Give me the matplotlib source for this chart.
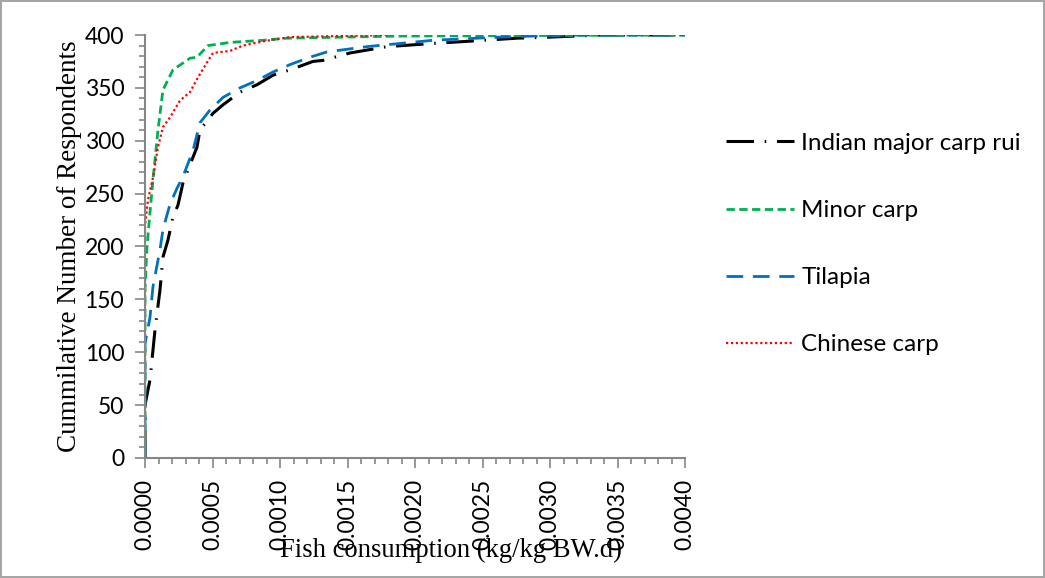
import numpy as np
import matplotlib
matplotlib.use("Agg")
import matplotlib.pyplot as plt
from matplotlib.ticker import MultipleLocator, FormatStrFormatter

# cumulative curves, x in kg/kg BW.d, y = cumulative respondents
rui_x = [0, 0, 0.000037, 0.000074, 0.000111, 0.000133, 0.000170, 0.000207, 0.000244,
         0.000281, 0.000311, 0.000385, 0.000407, 0.000504, 0.000578, 0.000704, 0.000830,
         0.000948, 0.001074, 0.001244, 0.001319, 0.001519, 0.001793, 0.002133, 0.002385,
         0.002756, 0.003000, 0.003370, 0.004]
rui_y = [0, 50, 74, 121, 159, 190, 206, 228, 239, 260, 270, 294, 310, 326, 334, 346, 353,
         362, 367, 375, 376, 383, 389, 392, 394, 397, 398, 400, 400]

minor_x = [0, 0, 0.000015, 0.000037, 0.000059, 0.000096, 0.000133, 0.000207, 0.000333,
           0.000385, 0.000467, 0.000630, 0.000874, 0.001052, 0.001900, 0.004]
minor_y = [0, 160, 200, 232, 263, 310, 348, 367, 378, 379, 390, 393, 395, 397, 399, 400]

tilapia_x = [0, 0, 0.000037, 0.000059, 0.000111, 0.000133, 0.000185, 0.000237, 0.000281,
             0.000356, 0.000407, 0.000481, 0.000578, 0.000704, 0.000830, 0.000948, 0.001074,
             0.001222, 0.001348, 0.001644, 0.002133, 0.002630, 0.003126, 0.004]
tilapia_y = [0, 108, 133, 162, 197, 216, 240, 255, 266, 291, 317, 329, 341, 350, 357, 365,
             372, 379, 384, 389, 395, 398, 400, 400]

chinese_x = [0, 0, 0.000022, 0.000059, 0.000096, 0.000133, 0.000185, 0.000259, 0.000333,
             0.000393, 0.000459, 0.000504, 0.000630, 0.000726, 0.000874, 0.001074, 0.0018]
chinese_y = [0, 220, 244, 265, 294, 313, 322, 338, 346, 360, 374, 383, 385, 390, 394, 398, 400]

labels = ["Indian major carp rui", "Minor carp", "Tilapia", "Chinese carp"]

fig = plt.figure(figsize=(10.45, 5.78), dpi=100)
fig.patch.set_edgecolor("#a6a6a6")
fig.patch.set_linewidth(1.5)
ax = fig.add_axes([145/1045, 1-458/578, 540/1045, 423/578])

l1, = ax.plot(rui_x, rui_y, color="black", lw=2.2, dashes=(9, 3.5, 0.5, 3.5))
l2, = ax.plot(minor_x, minor_y, color="#00B050", lw=2.0, dashes=(3, 1.6))
l3, = ax.plot(tilapia_x, tilapia_y, color="#0070C0", lw=2.0, dashes=(6, 3.5))
l4, = ax.plot(chinese_x, chinese_y, color="#FF0000", lw=1.6, dashes=(1, 1.2))

ax.set_xlim(0, 0.004)
ax.set_ylim(0, 400)
ax.xaxis.set_major_locator(MultipleLocator(0.0005))
ax.xaxis.set_minor_locator(MultipleLocator(0.0001))
ax.yaxis.set_major_locator(MultipleLocator(50))
ax.yaxis.set_minor_locator(MultipleLocator(10))
ax.xaxis.set_major_formatter(FormatStrFormatter("%.4f"))

for s in ["top", "right"]:
    ax.spines[s].set_visible(False)
for s in ["left", "bottom"]:
    ax.spines[s].set_color("#868686")
    ax.spines[s].set_linewidth(1.5)

ax.tick_params(which="both", color="#868686", width=1.2, direction="out")
ax.tick_params(which="major", length=7)
ax.tick_params(which="minor", length=4)
ax.tick_params(axis="both", labelsize=16.5)
ax.tick_params(axis="y", pad=8)
ax.tick_params(axis="x", pad=8)
for t in ax.get_xticklabels():
    t.set_rotation(90)
    t.set_fontfamily("Lato")
for t in ax.get_yticklabels():
    t.set_fontfamily("Lato")

ax.set_ylabel("Cummilative Number of Respondents", family="Liberation Serif", fontsize=19.5, labelpad=2)
fig.text(451/1045, 1-550/578, "Fish consumption (kg/kg BW.d)", family="Liberation Serif",
         fontsize=19.2, ha="center", va="center")

fig.legend([l1, l2, l3, l4], labels, loc="upper left", bbox_to_anchor=(704/1045, 1-111/578),
           frameon=False, prop={"family": "Lato", "size": 17.5}, handlelength=2.8,
           handletextpad=0.3, labelspacing=1.9)

fig.savefig("out.png", dpi=100)
